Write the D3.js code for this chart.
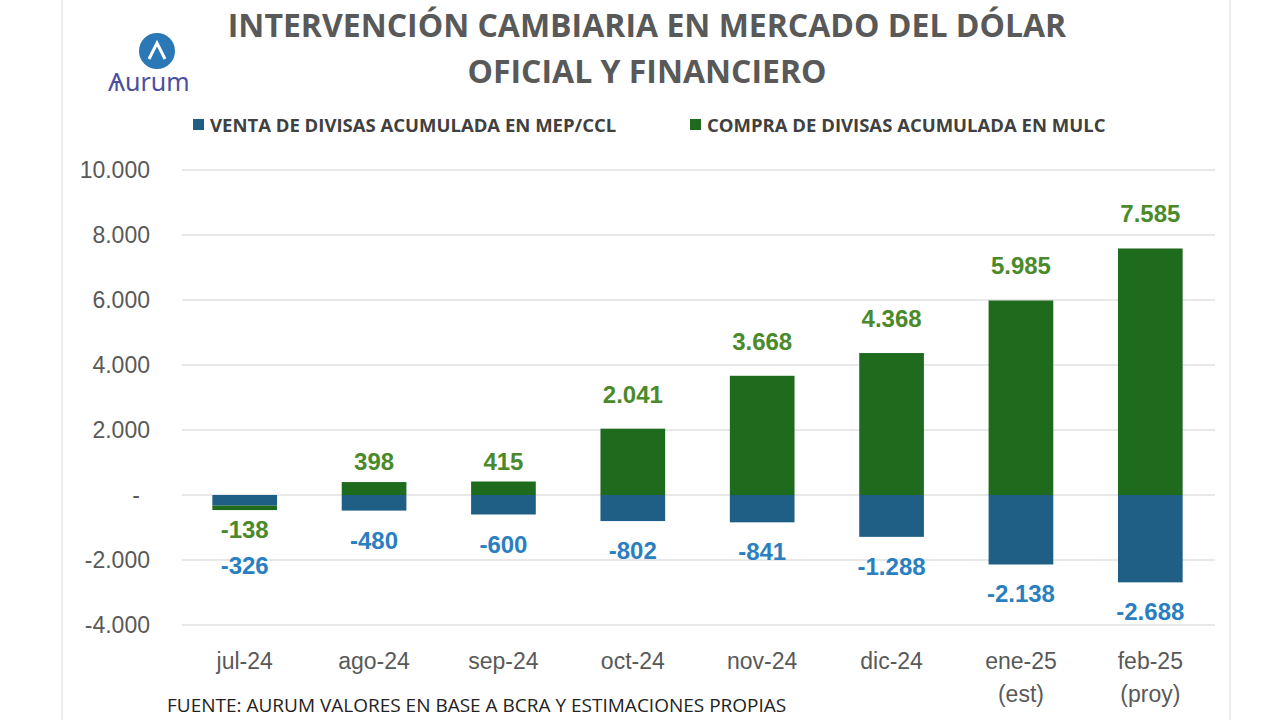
<!DOCTYPE html>
<html><head><meta charset="utf-8">
<script src="https://cdn.jsdelivr.net/npm/d3@7"></script>
<style>body{margin:0;background:#fff;font-family:"Open Sans",sans-serif}</style>
</head><body>
<svg width="1280" height="720"></svg>
<script>
const months = ["jul-24","ago-24","sep-24","oct-24","nov-24","dic-24","ene-25","feb-25"];
const subLabels = ["","","","","","","(est)","(proy)"];
const venta = [-326,-480,-600,-802,-841,-1288,-2138,-2688];
const compra = [-138,398,415,2041,3668,4368,5985,7585];
const yTicks = [-4000,-2000,0,2000,4000,6000,8000,10000];

const svg = d3.select('svg');
const fmt = v => v === 0 ? '-' : (v < 0 ? '-' : '') + d3.format(',')(Math.abs(v)).replace(/,/g, '.');
const arial = '"Liberation Sans",Arial,sans-serif';

svg.append('line').attr('x1',62).attr('x2',62).attr('y1',0).attr('y2',720).attr('stroke','#ddd');
svg.append('line').attr('x1',1230).attr('x2',1230).attr('y1',0).attr('y2',720).attr('stroke','#ddd');

const x = d3.scaleBand().domain(months).range([180,1215]).paddingInner(0.5).paddingOuter(0.25);
const y = d3.scaleLinear().domain([-4000,10000]).range([625,170]);

// grid
svg.append('g').selectAll('line').data(yTicks).enter().append('line')
  .attr('x1',182).attr('x2',1215).attr('y1',d=>y(d)).attr('y2',d=>y(d))
  .attr('stroke','#e0e0e0').attr('stroke-width',1.5);
svg.append('g').selectAll('text').data(yTicks).enter().append('text')
  .attr('x',d=>d===0?140:150).attr('y',d=>y(d)+8).attr('text-anchor','end')
  .attr('font-size',23).attr('font-family',arial).attr('fill','#595959').text(fmt);

// bars
const g = svg.append('g');
months.forEach((m,i) => {
  const v = venta[i], c = compra[i];
  g.append('rect').attr('x',x(m)).attr('width',x.bandwidth())
    .attr('y',y(0)).attr('height',y(v)-y(0)).attr('fill','#1f5f85');
  if (c >= 0) {
    g.append('rect').attr('x',x(m)).attr('width',x.bandwidth())
      .attr('y',y(c)).attr('height',y(0)-y(c)).attr('fill','#1e6b1e');
  } else {
    g.append('rect').attr('x',x(m)).attr('width',x.bandwidth())
      .attr('y',y(v)).attr('height',y(v+c)-y(v)).attr('fill','#1e6b1e');
  }
  const cx = x(m) + x.bandwidth()/2;
  const bold = (t,yy,col) => g.append('text').attr('x',cx).attr('y',yy).attr('text-anchor','middle')
    .attr('font-size',24).attr('font-weight','bold').attr('font-family',arial).attr('fill',col).text(t);
  if (c >= 0) {
    bold(fmt(c), y(c) - (c > 1000 ? 26 : 12), '#4a8a2a');
    bold(fmt(v), y(v)+38, '#2a7fc0');
  } else {
    bold(fmt(c), y(v+c)+28, '#4a8a2a');
    bold(fmt(v), y(v+c)+64, '#2a7fc0');
  }
  g.append('text').attr('x',cx).attr('y',669).attr('text-anchor','middle')
    .attr('font-size',23).attr('font-family',arial).attr('fill','#595959').text(m);
  if (subLabels[i]) g.append('text').attr('x',cx).attr('y',702).attr('text-anchor','middle')
    .attr('font-size',23).attr('font-family',arial).attr('fill','#595959').text(subLabels[i]);
});

// title
const title = svg.append('text').attr('text-anchor','middle').attr('font-size',32).attr('font-weight','bold')
  .attr('fill','#595959');
title.append('tspan').attr('x',647).attr('y',37).text('INTERVENCIÓN CAMBIARIA EN MERCADO DEL DÓLAR');
title.append('tspan').attr('x',647).attr('y',83).text('OFICIAL Y FINANCIERO');

// legend
const leg = [["VENTA DE DIVISAS ACUMULADA EN MEP/CCL","#1f5f85",193],["COMPRA DE DIVISAS ACUMULADA EN MULC","#1e6b1e",690]];
leg.forEach(([t,c,lx]) => {
  svg.append('rect').attr('x',lx).attr('y',119).attr('width',11).attr('height',11).attr('fill',c);
  svg.append('text').attr('x',lx+17).attr('y',132).attr('font-size',18.5).attr('font-weight','bold')
    .attr('fill','#404040').text(t);
});

// logo
svg.append('circle').attr('cx',157).attr('cy',51).attr('r',18).attr('fill','#2a78b5');
svg.append('path').attr('d','M149,59 L157,43 L165,59').attr('fill','none').attr('stroke','#fff').attr('stroke-width',3);
svg.append('text').attr('x',108).attr('y',91).attr('font-size',25).attr('fill','#4b4f9e').attr('font-family','"Noto Sans",sans-serif').text('Ѧurum');

svg.append('text').attr('x',167).attr('y',712).attr('font-size',19).attr('fill','#222').text('FUENTE: AURUM VALORES EN BASE A BCRA Y ESTIMACIONES PROPIAS');
</script>
</body></html>
